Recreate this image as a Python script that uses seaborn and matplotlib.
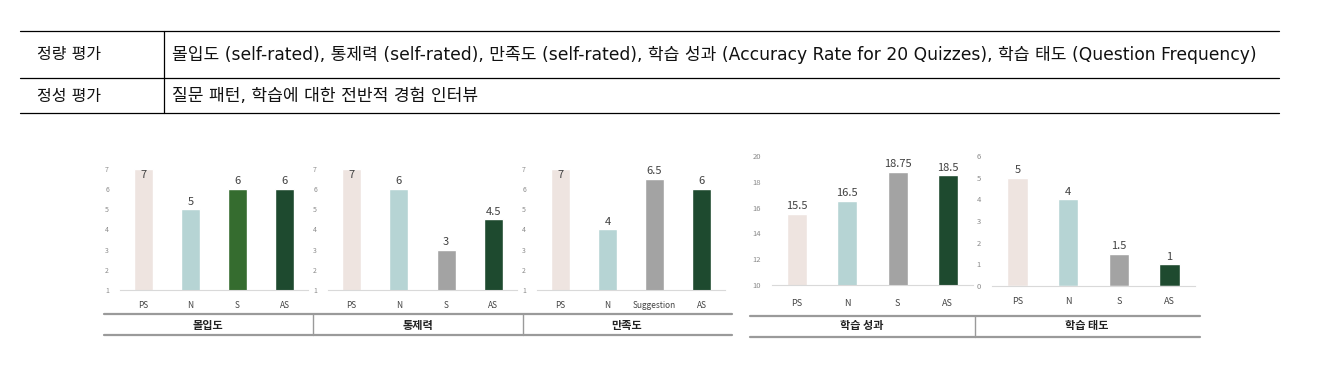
import matplotlib
matplotlib.use("Agg")
import matplotlib.pyplot as plt
import pandas as pd
import seaborn as sns
from matplotlib.lines import Line2D

# table text
ROW_HEADERS = ["정량 평가", "정성 평가"]
ROW_TEXT = [
    "몰입도 (self-rated), 통제력 (self-rated), 만족도 (self-rated), 학습 성과 (Accuracy Rate for 20 Quizzes), 학습 태도 (Question Frequency)",
    "질문 패턴, 학습에 대한 전반적 경험 인터뷰",
]

# chart data
GROUPS = ["PS", "N", "S", "AS"]
GROUPS_SAT = ["PS", "N", "Suggestion", "AS"]
immersion = [7, 5, 6, 6]
control = [7, 6, 3, 4.5]
satisfaction = [7, 4, 6.5, 6]
performance = [15.5, 16.5, 18.75, 18.5]
attitude = [5, 4, 1.5, 1]
TITLES = ["몰입도", "통제력", "만족도", "학습 성과", "학습 태도"]

PS_C, N_C, GREEN_C, GREY_C, AS_C = "#EEE4E0", "#B6D4D4", "#356C2F", "#A3A3A3", "#1E4A2F"

W, H = 1322, 368


def fx(x):
    return x / W


def fy(y):
    return 1 - y / H


sns.set_theme(style="white")
plt.rcParams["font.family"] = ["Noto Sans CJK KR", "DejaVu Sans"]

fig = plt.figure(figsize=(W / 100, H / 100), dpi=100)


def hline(x0, x1, y, color="black", lw=0.9):
    fig.add_artist(Line2D([fx(x0), fx(x1)], [fy(y), fy(y)], color=color, lw=lw))


def vline(x, y0, y1, color="black", lw=0.9):
    fig.add_artist(Line2D([fx(x), fx(x)], [fy(y0), fy(y1)], color=color, lw=lw))


# ---- table at the top ----
for y in (31, 78, 113):
    hline(20, 1279, y)
vline(164, 31, 113)
TABLE_FONT = ["DejaVu Sans", "Noto Sans CJK KR"]
for y, head, txt in zip((55, 96), ROW_HEADERS, ROW_TEXT):
    fig.text(fx(37), fy(y), head, fontsize=11.5, va="center", color="#111111",
             family=TABLE_FONT)
    fig.text(fx(172), fy(y), txt, fontsize=12.3, va="center", color="#111111",
             family=TABLE_FONT)


# ---- bar charts ----
def bar_chart(rect, cats, vals, colors, ylim, yticks, pad, tick_fs, ytick_fs):
    ax = fig.add_axes(rect)
    df = pd.DataFrame({"cat": cats, "val": vals})
    sns.barplot(data=df, x="cat", y="val", hue="cat", palette=colors,
                order=cats, width=0.4, legend=False, ax=ax, saturation=1)
    ax.set_ylim(*ylim)
    ax.set_xlim(-0.5, len(cats) - 0.5)
    ax.set_yticks(yticks)
    ax.tick_params(axis="y", length=0, labelsize=ytick_fs, labelcolor="#8A8A8A", pad=8)
    ax.tick_params(axis="x", length=0, labelsize=tick_fs, labelcolor="#444444", pad=pad)
    ax.set_xticks(range(len(cats)), minor=False)
    ax.set_xticks([i + 0.5 for i in range(len(cats) - 1)], minor=True)
    ax.tick_params(axis="x", which="minor", length=3, color="#D0D0D0", width=0.6, direction="out")
    ax.set_xlabel("")
    ax.set_ylabel("")
    for s in ("top", "right", "left"):
        ax.spines[s].set_visible(False)
    ax.spines["bottom"].set_color("#D9D9D9")
    ax.spines["bottom"].set_linewidth(0.8)
    ax.grid(False)
    for i, v in enumerate(vals):
        if v >= ylim[1]:
            ax.annotate(f"{v:g}", (i, v), xytext=(0, -1), textcoords="offset points",
                        ha="center", va="top", fontsize=8, color="#404040")
        else:
            ax.annotate(f"{v:g}", (i, v), xytext=(0, 2), textcoords="offset points",
                        ha="center", va="bottom", fontsize=8, color="#404040",
                        annotation_clip=False)
    return ax


left_h = [fy(290), (290 - 169) / H]
bar_chart([fx(120), left_h[0], 188 / W, left_h[1]], GROUPS, immersion,
          [PS_C, N_C, GREEN_C, AS_C], (1, 7), range(1, 8), 8, 6, 5)
bar_chart([fx(328), left_h[0], 189 / W, left_h[1]], GROUPS, control,
          [PS_C, N_C, GREY_C, AS_C], (1, 7), range(1, 8), 8, 6, 5)
bar_chart([fx(537), left_h[0], 188 / W, left_h[1]], GROUPS_SAT, satisfaction,
          [PS_C, N_C, GREY_C, AS_C], (1, 7), range(1, 8), 8, 6, 5)
bar_chart([fx(772), fy(285), 201 / W, (285 - 156) / H], GROUPS, performance,
          [PS_C, N_C, GREY_C, AS_C], (10, 20), range(10, 21, 2), 10, 6.5, 5.5)
bar_chart([fx(992), fy(286), 203 / W, (286 - 156) / H], GROUPS, attitude,
          [PS_C, N_C, GREY_C, AS_C], (0, 6), range(0, 7), 8, 6.5, 5.5)

# ---- label bands under the charts ----
BAND = "#9A9A9A"
hline(104, 732, 314, BAND, 1.6)
hline(104, 732, 335, BAND, 1.6)
vline(313, 314, 335, BAND, 1.0)
vline(523, 314, 335, BAND, 1.0)
hline(750, 1200, 316, BAND, 1.6)
hline(750, 1200, 337, BAND, 1.6)
vline(975, 316, 337, BAND, 1.0)
for x, y, t in zip((208, 418, 627, 862, 1087), (325, 325, 325, 326, 326), TITLES):
    fig.text(fx(x), fy(y), t, fontsize=8, fontweight="bold", ha="center", va="center",
             color="#222222")

fig.savefig("out.png", dpi=100)
